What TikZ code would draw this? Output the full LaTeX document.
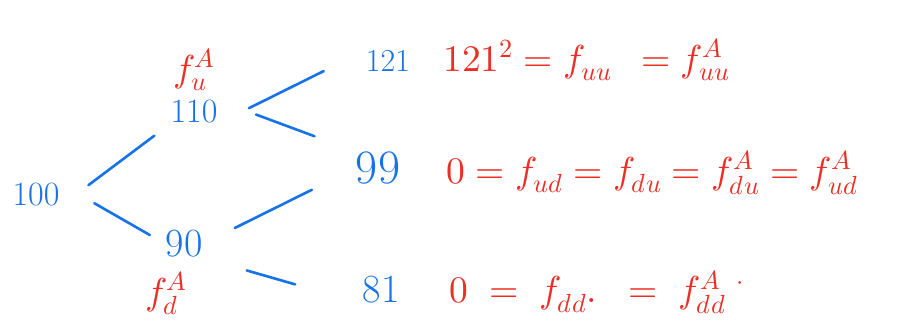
\documentclass[tikz,border=0pt]{standalone}
\usepackage{tikz}
\usetikzlibrary{positioning}
\usepackage{xcolor}
\usepackage{unicode-math}
\setmathfont{Latin Modern Math}
\definecolor{penblue}{RGB}{22,114,232}
\definecolor{penred}{RGB}{236,46,36}

\begin{document}
\begin{tikzpicture}[x=1pt,y=-1pt, every node/.style={inner sep=0pt},
  price/.style={text=penblue,font=\fontsize{#1}{#1}\selectfont},
  payoff/.style={text=penred,font=\fontsize{37.5}{45}\selectfont},
  branch/.style={draw=penblue,line width=2.6pt,line cap=round}]
\useasboundingbox (0,0) rectangle (900,332);
\node[price=34] (n0) at (36,195) {100};
\node[price=34] (nu) at (194,112) {110};
\draw[branch,shorten <=36pt,shorten >=20pt] (n0.south east) -- (nu.south west);
\node[price=40] (nd) at (184,244) {90};
\draw[branch,shorten <=40pt,shorten >=18pt] (n0.north east) -- (nd.west);
\node[payoff,above=9pt of nu] (fu) {$f_u^A$};
\node[payoff,below=14pt of nd,xshift=-18pt] (fd) {$f_d^A$};
\node[price=32] (nuu) at (388,61) {121};
\draw[branch,shorten <=35pt,shorten >=47pt] (nu.south east) -- (nuu.north west);
\node[price=48] (nud) at (378,168) {99};
\draw[branch,shorten <=41pt,shorten >=44pt] (nu.north east) -- (nud.north west);
\draw[branch,shorten <=36pt,shorten >=49pt] (nd.east) -- (nud.west);
\node[price=40] (ndd) at (381,290) {81};
\draw[branch,shorten <=46pt,shorten >=70pt] (nd.south east) -- (ndd.south west);
\node[payoff,right=33pt of nuu.base east,anchor=base west] (eq0) {$121^2 = f_{uu} \enspace = f^A_{uu}$};
\node[payoff,right=46pt of nud.base east,anchor=base west] (eq1) {$0 = f_{ud} = f_{du} = f^A_{du} = f^A_{ud}$};
\node[payoff,right=50pt of ndd.base east,anchor=base west] (eq2) {$0 \;=\; f_{dd}.\;\; = \; f^A_{dd}\;{}^{\cdot}$};
\end{tikzpicture}
\end{document}
